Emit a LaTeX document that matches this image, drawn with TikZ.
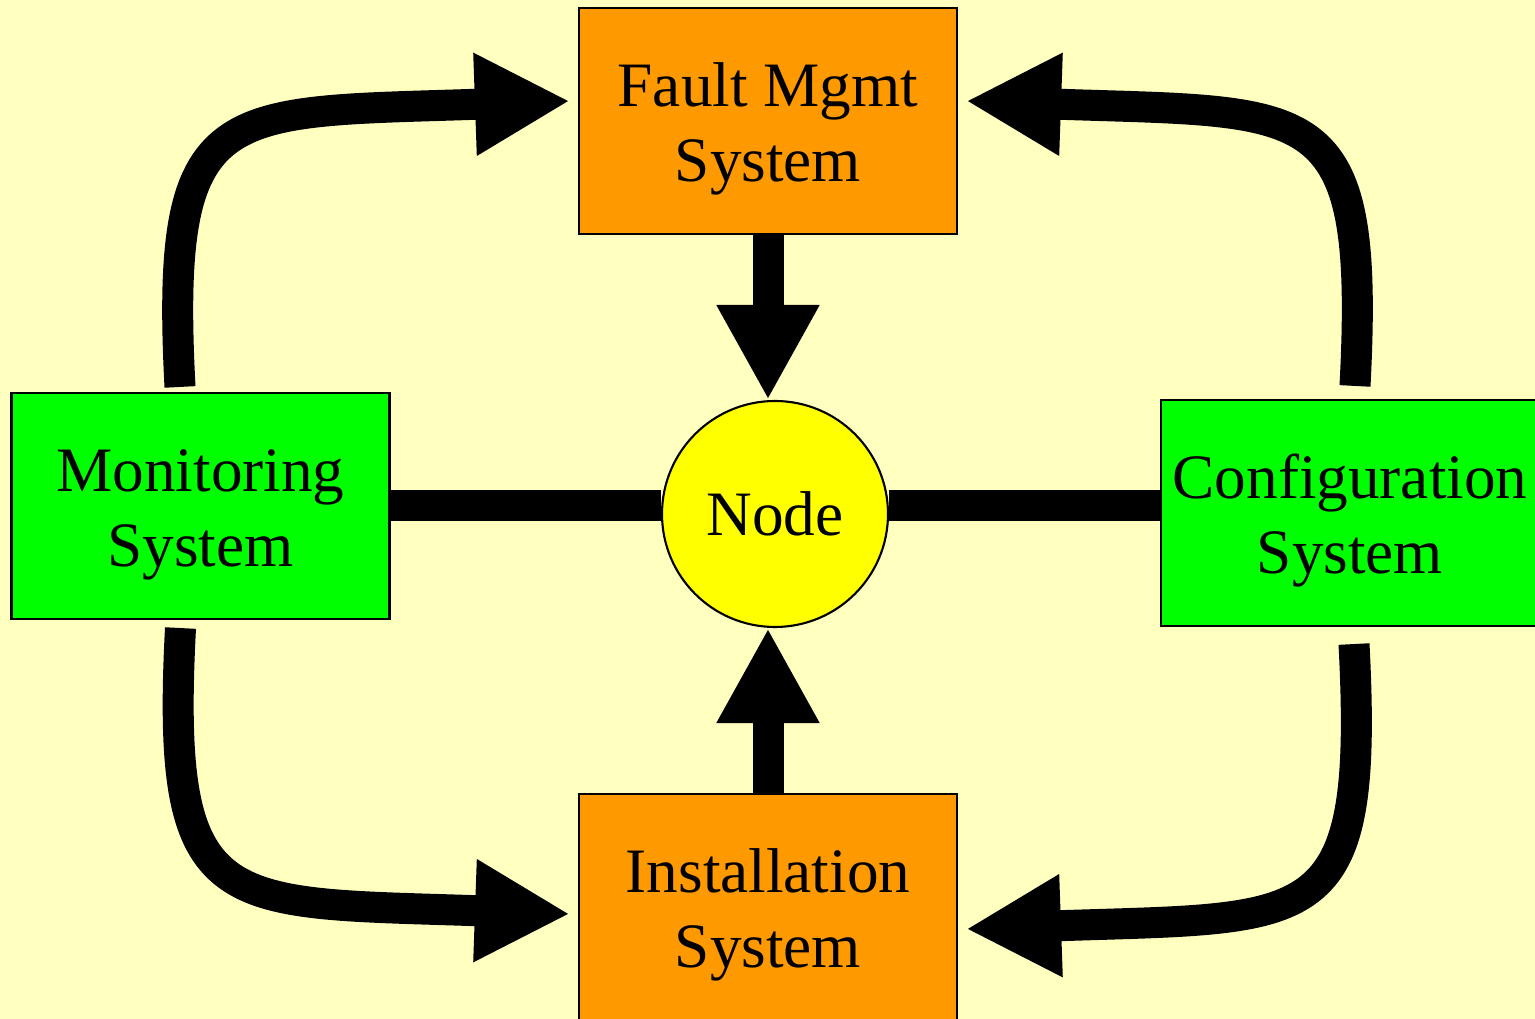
\documentclass[tikz,border=0pt]{standalone}
\usepackage{fontspec}
\setmainfont{Liberation Serif}
\usetikzlibrary{arrows.meta}

\definecolor{bgyellow}{RGB}{255,255,192}
\definecolor{mgmtorange}{RGB}{255,153,0}
\definecolor{sysgreen}{RGB}{0,255,0}
\definecolor{hubyellow}{RGB}{255,255,0}

\begin{document}
\begin{tikzpicture}[->,>={Triangle[length=9.5mm,width=9.6mm]},line width=3.1mm]
  \tikzstyle{sysbox}=[rectangle,draw=black,line width=0.6pt,minimum width=3.78cm,minimum height=2.26cm,inner sep=0pt,align=center,font=\fontsize{18}{21.6}\selectfont,text height=1.36cm,text depth=0.14cm]
  \tikzstyle{hub}=[circle,draw=black,line width=0.6pt,fill=hubyellow,minimum size=2.26cm,inner sep=0pt,font=\fontsize{18}{21.6}\selectfont]

  \useasboundingbox (0,0) rectangle (15.35,10.19);
  \fill[bgyellow] (0,0) rectangle (15.35,10.19);

  \node[hub] (hub) at (7.75,5.05)     {Node};
  \node[sysbox,fill=mgmtorange] (fault) [node distance=3.93cm,above of=hub,xshift=-0.07cm] {Fault Mgmt\\System};
  \node[sysbox,fill=mgmtorange] (inst)  [node distance=3.93cm,below of=hub,xshift=-0.07cm] {Installation\\System};
  \node[sysbox,fill=sysgreen] (mon)     [node distance=5.745cm,left of=hub,yshift=0.08cm]  {Monitoring\\System};
  \node[sysbox,fill=sysgreen] (conf)    [node distance=5.75cm,right of=hub,yshift=0.01cm]  {Configuration\\System};

  \path (fault.south) edge (fault.south |- hub.north)
  (inst.north) edge (inst.north |- hub.south)
  (mon.east) edge[-] (mon.east -| hub.west)
  (hub.east |- mon.east) edge[-] (conf.west |- mon.east)
  ([xshift=-2.05mm,yshift=0.5mm]mon.north) edge[out=93,in=182,out distance=2.9cm,in distance=3.5cm] ([xshift=-0.8mm,yshift=2mm]fault.west)
  ([xshift=0.5mm,yshift=1.3mm]conf.north) edge[out=87,in=-2,out distance=2.9cm,in distance=3.5cm] ([xshift=0.8mm,yshift=2mm]fault.east)
  ([xshift=-2mm,yshift=-0.8mm]mon.south) edge[out=-93,in=178,out distance=2.9cm,in distance=3.5cm] ([xshift=-0.8mm,yshift=-0.7mm]inst.west)
  ([xshift=0.4mm,yshift=-1.7mm]conf.south) edge[out=-87,in=2,out distance=2.9cm,in distance=3.5cm] ([xshift=0.8mm,yshift=-2.2mm]inst.east)
  ;
\end{tikzpicture}
\end{document}
